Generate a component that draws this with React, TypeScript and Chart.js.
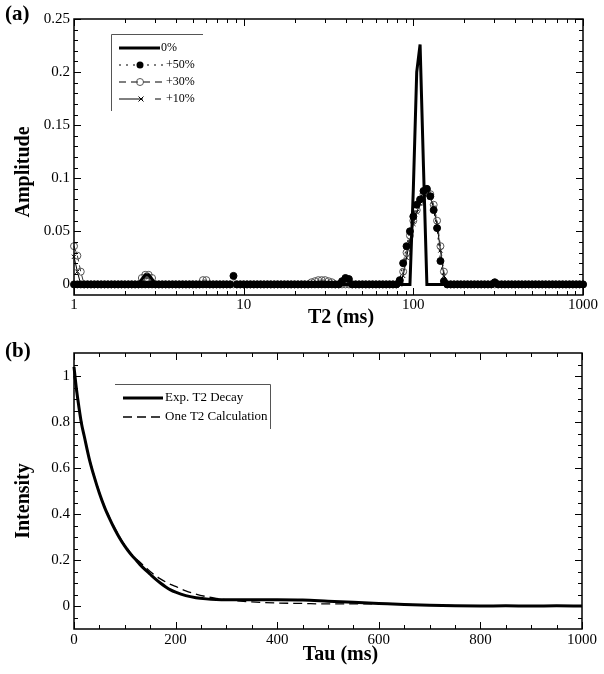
import React, { useEffect, useRef } from 'react';
import { Chart, registerables } from 'chart.js';

Chart.register(...registerables);

const FONT = "'Liberation Serif', 'Times New Roman', serif";
Chart.defaults.font.family = FONT;
Chart.defaults.color = '#000';

// ---------- Panel (a): T2 distribution ----------
const T2_MS = [
  1, 1.047, 1.096, 1.148, 1.202, 1.259, 1.318, 1.38, 1.445, 1.514,
  1.585, 1.66, 1.738, 1.82, 1.905, 1.995, 2.089, 2.188, 2.291, 2.399,
  2.512, 2.63, 2.754, 2.884, 3.02, 3.162, 3.311, 3.467, 3.631, 3.802,
  3.981, 4.169, 4.365, 4.571, 4.786, 5.012, 5.248, 5.495, 5.754, 6.026,
  6.31, 6.607, 6.918, 7.244, 7.586, 7.943, 8.318, 8.71, 9.12, 9.55,
  10, 10.47, 10.96, 11.48, 12.02, 12.59, 13.18, 13.8, 14.45, 15.14,
  15.85, 16.6, 17.38, 18.2, 19.05, 19.95, 20.89, 21.88, 22.91, 23.99,
  25.12, 26.3, 27.54, 28.84, 30.2, 31.62, 33.11, 34.67, 36.31, 38.02,
  39.81, 41.69, 43.65, 45.71, 47.86, 50.12, 52.48, 54.95, 57.54, 60.26,
  63.1, 66.07, 69.18, 72.44, 75.86, 79.43, 83.18, 87.1, 91.2, 95.5,
  100, 104.7, 109.6, 114.8, 120.2, 125.9, 131.8, 138, 144.5, 151.4,
  158.5, 166, 173.8, 182, 190.5, 199.5, 208.9, 218.8, 229.1, 239.9,
  251.2, 263, 275.4, 288.4, 302, 316.2, 331.1, 346.7, 363.1, 380.2,
  398.1, 416.9, 436.5, 457.1, 478.6, 501.2, 524.8, 549.5, 575.4, 602.6,
  631, 660.7, 691.8, 724.4, 758.6, 794.3, 831.8, 871, 912, 955,
  1000,
];

const AMP_0 = [
  0, 0, 0, 0, 0, 0, 0, 0, 0, 0,
  0, 0, 0, 0, 0, 0, 0, 0, 0, 0,
  0.005, 0.009, 0.009, 0.005, 0, 0, 0, 0, 0, 0,
  0, 0, 0, 0, 0, 0, 0, 0, 0, 0,
  0, 0, 0, 0, 0, 0, 0, 0, 0, 0,
  0, 0, 0, 0, 0, 0, 0, 0, 0, 0,
  0, 0, 0, 0, 0, 0, 0, 0, 0, 0,
  0, 0, 0, 0, 0, 0, 0, 0, 0, 0,
  0, 0, 0, 0, 0, 0, 0, 0, 0, 0,
  0, 0, 0, 0, 0, 0, 0, 0, 0, 0,
  0.09, 0.2, 0.226, 0.11, 0, 0, 0, 0, 0, 0,
  0, 0, 0, 0, 0, 0, 0, 0, 0, 0,
  0, 0, 0, 0, 0, 0, 0, 0, 0, 0,
  0, 0, 0, 0, 0, 0, 0, 0, 0, 0,
  0, 0, 0, 0, 0, 0, 0, 0, 0, 0,
  0,
];

const AMP_50 = [
  0, 0, 0, 0, 0, 0, 0, 0, 0, 0,
  0, 0, 0, 0, 0, 0, 0, 0, 0, 0,
  0, 0, 0, 0, 0, 0, 0, 0, 0, 0,
  0, 0, 0, 0, 0, 0, 0, 0, 0, 0,
  0, 0, 0, 0, 0, 0, 0, 0.008, 0, 0,
  0, 0, 0, 0, 0, 0, 0, 0, 0, 0,
  0, 0, 0, 0, 0, 0, 0, 0, 0, 0,
  0, 0, 0, 0, 0, 0, 0, 0, 0, 0.003,
  0.006, 0.005, 0, 0, 0, 0, 0, 0, 0, 0,
  0, 0, 0, 0, 0, 0, 0.004, 0.02, 0.036, 0.05,
  0.064, 0.075, 0.08, 0.088, 0.09, 0.083, 0.07, 0.053, 0.022, 0.003,
  0, 0, 0, 0, 0, 0, 0, 0, 0, 0,
  0, 0, 0, 0, 0.002, 0, 0, 0, 0, 0,
  0, 0, 0, 0, 0, 0, 0, 0, 0, 0,
  0, 0, 0, 0, 0, 0, 0, 0, 0, 0,
  0,
];

const AMP_30 = [
  0.036, 0.027, 0.012, 0, 0, 0, 0, 0, 0, 0,
  0, 0, 0, 0, 0, 0, 0, 0, 0, 0,
  0.006, 0.009, 0.009, 0.006, 0, 0, 0, 0, 0, 0,
  0, 0, 0, 0, 0, 0, 0, 0, 0.004, 0.004,
  0, 0, 0, 0, 0, 0, 0, 0, 0, 0,
  0, 0, 0, 0, 0, 0, 0, 0, 0, 0,
  0, 0, 0, 0, 0, 0, 0, 0, 0, 0,
  0.002, 0.003, 0.004, 0.004, 0.004, 0.003, 0.002, 0, 0, 0,
  0, 0, 0, 0, 0, 0, 0, 0, 0, 0,
  0, 0, 0, 0, 0, 0, 0.002, 0.012, 0.03, 0.046,
  0.06, 0.07, 0.078, 0.085, 0.088, 0.085, 0.075, 0.06, 0.036, 0.012,
  0, 0, 0, 0, 0, 0, 0, 0, 0, 0,
  0, 0, 0, 0, 0, 0, 0, 0, 0, 0,
  0, 0, 0, 0, 0, 0, 0, 0, 0, 0,
  0, 0, 0, 0, 0, 0, 0, 0, 0, 0,
  0,
];

const AMP_10 = [
  0.026, 0.012, 0, 0, 0, 0, 0, 0, 0, 0,
  0, 0, 0, 0, 0, 0, 0, 0, 0, 0,
  0, 0.007, 0.007, 0, 0, 0, 0, 0, 0, 0,
  0, 0, 0, 0, 0, 0, 0, 0, 0, 0,
  0, 0, 0, 0, 0, 0, 0, 0, 0, 0,
  0, 0, 0, 0, 0, 0, 0, 0, 0, 0,
  0, 0, 0, 0, 0, 0, 0, 0, 0, 0,
  0, 0, 0, 0, 0, 0, 0, 0, 0, 0,
  0, 0, 0, 0, 0, 0, 0, 0, 0, 0,
  0, 0, 0, 0, 0, 0, 0, 0.008, 0.025, 0.042,
  0.057, 0.068, 0.076, 0.082, 0.085, 0.082, 0.072, 0.056, 0.032, 0.008,
  0, 0, 0, 0, 0, 0, 0, 0, 0, 0,
  0, 0, 0, 0, 0, 0, 0, 0, 0, 0,
  0, 0, 0, 0, 0, 0, 0, 0, 0, 0,
  0, 0, 0, 0, 0, 0, 0, 0, 0, 0,
  0,
];

const A_X_TICKS = [1, 10, 100, 1000];
const A_Y_TICKS = [0, 0.05, 0.1, 0.15, 0.2, 0.25];

// ---------- Panel (b): decay ----------
const TAU_MS = [
  0, 5, 10, 15, 20, 30, 40, 50, 60, 70, 80, 90, 100, 110, 120, 130, 140, 150, 160, 170,
  180, 190, 200, 220, 240, 260, 280, 300, 350, 400, 450, 500, 550, 600, 650, 700, 750,
  800, 850, 900, 950, 1000,
];
const EXP_DECAY = [
  1.04, 0.94, 0.86, 0.79, 0.74, 0.64, 0.56, 0.49, 0.43, 0.38, 0.335, 0.295, 0.26, 0.23,
  0.205, 0.18, 0.158, 0.138, 0.118, 0.1, 0.084, 0.07, 0.06, 0.045, 0.036, 0.031, 0.028,
  0.027, 0.027, 0.027, 0.026, 0.021, 0.016, 0.011, 0.006, 0.003, 0.001, 0, 0.001, 0,
  0.001, 0,
];
const ONE_T2_CALC = [
  1.0, 0.93, 0.86, 0.8, 0.74, 0.645, 0.565, 0.495, 0.435, 0.385, 0.34, 0.3, 0.265, 0.235,
  0.21, 0.19, 0.17, 0.15, 0.133, 0.118, 0.105, 0.094, 0.085, 0.066, 0.052, 0.041, 0.033,
  0.027, 0.018, 0.013, 0.011, 0.009, 0.009, 0.01, 0.007, 0.004, 0.002, 0.001, 0, 0, 0, 0,
];
const B_X_TICKS = [0, 200, 400, 600, 800, 1000];
const B_Y_TICKS = [0, 0.2, 0.4, 0.6, 0.8, 1];

// minor tick positions (axis decoration only)
const A_X_MINOR: number[] = [];
[1, 10, 100].forEach((d) => { for (let k = 2; k <= 9; k++) A_X_MINOR.push(k * d); });
const A_Y_MINOR: number[] = [];
for (let i = 1; i < 25; i++) if (i % 5 !== 0) A_Y_MINOR.push(i / 100);
const B_X_MINOR: number[] = [];
for (let i = 1; i < 20; i++) if (i % 4 !== 0) B_X_MINOR.push(i * 50);
const B_Y_MINOR: number[] = [];
for (let i = -1; i <= 21; i++) if (i % 4 !== 0) B_Y_MINOR.push(i * 0.05);

function frameTicks(xMajor: number[], xMinor: number[], yMajor: number[], yMinor: number[]) {
  return {
    id: 'frameTicks',
    afterDatasetsDraw(chart: any) {
      const { ctx, chartArea } = chart;
      const { left, right, top, bottom } = chartArea;
      const xs = chart.scales.x;
      const ys = chart.scales.y;
      ctx.save();
      ctx.strokeStyle = '#000';
      ctx.lineWidth = 1;
      const seg = (x1: number, y1: number, x2: number, y2: number) => {
        ctx.beginPath();
        ctx.moveTo(x1, y1);
        ctx.lineTo(x2, y2);
        ctx.stroke();
      };
      const xt = (vals: number[], len: number) =>
        vals.forEach((v) => {
          const p = Math.round(xs.getPixelForValue(v)) + 0.5;
          seg(p, bottom, p, bottom - len);
          seg(p, top, p, top + len);
        });
      const yt = (vals: number[], len: number) =>
        vals.forEach((v) => {
          const p = Math.round(ys.getPixelForValue(v)) + 0.5;
          seg(left, p, left + len, p);
          seg(right, p, right - len, p);
        });
      xt(xMajor, 7);
      xt(xMinor, 4);
      yt(yMajor, 7);
      yt(yMinor, 4);
      ctx.lineWidth = 1.5;
      ctx.strokeRect(left, top, right - left, bottom - top);
      ctx.restore();
    },
  };
}

function decorA() {
  return {
    id: 'decorA',
    afterDraw(chart: any) {
      const ctx = chart.ctx;
      ctx.save();
      ctx.fillStyle = '#000';
      ctx.strokeStyle = '#000';
      ctx.font = `bold 21px ${FONT}`;
      ctx.textBaseline = 'middle';
      ctx.textAlign = 'left';
      ctx.fillText('(a)', 5, 15);
      // legend box (top + left lines)
      ctx.strokeStyle = '#555';
      ctx.lineWidth = 1;
      ctx.beginPath();
      ctx.moveTo(203, 34.5);
      ctx.lineTo(111.5, 34.5);
      ctx.lineTo(111.5, 111);
      ctx.stroke();
      ctx.strokeStyle = '#000';
      ctx.font = `12px ${FONT}`;
      const line = (y: number, x1: number, x2: number, w: number, dash: number[]) => {
        ctx.setLineDash(dash);
        ctx.lineWidth = w;
        ctx.beginPath();
        ctx.moveTo(x1, y);
        ctx.lineTo(x2, y);
        ctx.stroke();
        ctx.setLineDash([]);
      };
      // 0%
      line(48, 119, 160, 3, []);
      ctx.fillText('0%', 161, 48);
      // +50%
      line(65, 119, 163, 1.2, [2, 5]);
      ctx.beginPath();
      ctx.arc(140, 65, 3.5, 0, Math.PI * 2);
      ctx.fill();
      ctx.fillText('+50%', 166, 65);
      // +30%
      line(82, 119, 163, 1.2, [7, 5]);
      ctx.strokeStyle = '#555';
      ctx.lineWidth = 1;
      ctx.beginPath();
      ctx.arc(140, 82, 3.5, 0, Math.PI * 2);
      ctx.stroke();
      ctx.strokeStyle = '#000';
      ctx.fillText('+30%', 166, 82);
      // +10%
      line(99, 119, 143, 1, []);
      line(99, 155, 161, 1, []);
      ctx.lineWidth = 1;
      ctx.beginPath();
      ctx.moveTo(138.5, 96.5);
      ctx.lineTo(143.5, 101.5);
      ctx.moveTo(143.5, 96.5);
      ctx.lineTo(138.5, 101.5);
      ctx.stroke();
      ctx.fillText('+10%', 166, 99);
      ctx.restore();
    },
  };
}

function decorB() {
  return {
    id: 'decorB',
    afterDraw(chart: any) {
      const ctx = chart.ctx;
      ctx.save();
      ctx.fillStyle = '#000';
      ctx.font = `bold 21px ${FONT}`;
      ctx.textBaseline = 'middle';
      ctx.textAlign = 'left';
      ctx.fillText('(b)', 5, 14.5);
      ctx.strokeStyle = '#555';
      ctx.lineWidth = 1;
      ctx.beginPath();
      ctx.moveTo(115, 47.5);
      ctx.lineTo(270.5, 47.5);
      ctx.lineTo(270.5, 92);
      ctx.stroke();
      ctx.strokeStyle = '#000';
      ctx.lineWidth = 3;
      ctx.beginPath();
      ctx.moveTo(123, 61);
      ctx.lineTo(163, 61);
      ctx.stroke();
      ctx.lineWidth = 1.3;
      ctx.setLineDash([9, 5]);
      ctx.beginPath();
      ctx.moveTo(123, 80);
      ctx.lineTo(163, 80);
      ctx.stroke();
      ctx.setLineDash([]);
      ctx.font = `13px ${FONT}`;
      ctx.fillText('Exp. T2 Decay', 165, 61);
      ctx.fillText('One T2 Calculation', 165, 80);
      ctx.restore();
    },
  };
}

const tickFont = { family: FONT, size: 15 };
const titleFont = { family: FONT, size: 20, weight: 'bold' as const };

function configA(): any {
  const pts = (arr: number[]) => T2_MS.map((t, i) => ({ x: t, y: arr[i] }));
  return {
    type: 'line',
    data: {
      datasets: [
        { label: '0%', data: pts(AMP_0), borderColor: '#000', borderWidth: 3, pointRadius: 0, tension: 0, clip: false },
        {
          label: '+50%', data: pts(AMP_50), borderColor: '#000', borderWidth: 1, borderDash: [2, 4],
          pointRadius: 3.5, pointStyle: 'circle', pointBackgroundColor: '#000', pointBorderColor: '#000',
          pointBorderWidth: 1, tension: 0, clip: false,
        },
        {
          label: '+30%', data: pts(AMP_30), borderColor: '#333', borderWidth: 1, borderDash: [6, 4],
          pointRadius: 3.5, pointStyle: 'circle', pointBackgroundColor: 'rgba(0,0,0,0)', pointBorderColor: '#555',
          pointBorderWidth: 1, tension: 0, clip: false,
        },
        {
          label: '+10%', data: pts(AMP_10), borderColor: '#000', borderWidth: 1,
          pointRadius: 3, pointStyle: 'crossRot', pointBorderColor: '#000', pointBorderWidth: 1, tension: 0, clip: false,
        },
      ],
    },
    options: {
      animation: false,
      responsive: false,
      devicePixelRatio: 1,
      events: [],
      layout: { padding: { top: 19, right: 21, left: 0, bottom: 0 } },
      plugins: { legend: { display: false }, tooltip: { enabled: false } },
      scales: {
        x: {
          type: 'logarithmic', min: 1, max: 1000,
          grid: { display: false, drawTicks: false }, border: { display: false },
          afterBuildTicks: (s: any) => { s.ticks = A_X_TICKS.map((v) => ({ value: v })); },
          afterFit: (s: any) => { s.height = 42; },
          ticks: { font: tickFont, padding: 1, autoSkip: false, maxRotation: 0, color: '#000', callback: (v: any) => String(v) },
          title: { display: true, text: '     T2 (ms)', font: titleFont, color: '#000', padding: { top: 0, bottom: 7 } },
        },
        y: {
          type: 'linear', min: -0.01, max: 0.25,
          grid: { display: false, drawTicks: false }, border: { display: false },
          afterBuildTicks: (s: any) => { s.ticks = A_Y_TICKS.map((v) => ({ value: v })); },
          afterFit: (s: any) => { s.width = 74; },
          ticks: { font: tickFont, padding: 4, autoSkip: false, color: '#000', callback: (v: any) => String(v) },
          title: { display: true, text: 'Amplitude      ', font: titleFont, color: '#000', padding: { top: 12, bottom: 0 } },
        },
      },
    },
    plugins: [frameTicks(A_X_TICKS, A_X_MINOR, A_Y_TICKS, A_Y_MINOR), decorA()],
  };
}

function configB(): any {
  const pts = (arr: number[]) => TAU_MS.map((t, i) => ({ x: t, y: arr[i] }));
  return {
    type: 'line',
    data: {
      datasets: [
        { label: 'Exp. T2 Decay', data: pts(EXP_DECAY), borderColor: '#000', borderWidth: 3, pointRadius: 0, cubicInterpolationMode: 'monotone', clip: false },
        { label: 'One T2 Calculation', data: pts(ONE_T2_CALC), borderColor: '#000', borderWidth: 1.3, borderDash: [9, 5], pointRadius: 0, cubicInterpolationMode: 'monotone', clip: false },
      ],
    },
    options: {
      animation: false,
      responsive: false,
      devicePixelRatio: 1,
      events: [],
      layout: { padding: { top: 16, right: 22, left: 0, bottom: 0 } },
      plugins: { legend: { display: false }, tooltip: { enabled: false } },
      scales: {
        x: {
          type: 'linear', min: 0, max: 1000,
          grid: { display: false, drawTicks: false }, border: { display: false },
          afterBuildTicks: (s: any) => { s.ticks = B_X_TICKS.map((v) => ({ value: v })); },
          afterFit: (s: any) => { s.height = 45; },
          ticks: { font: tickFont, padding: 2, autoSkip: false, maxRotation: 0, color: '#000', callback: (v: any) => String(v) },
          title: { display: true, text: '     Tau (ms)', font: titleFont, color: '#000', padding: { top: 0, bottom: 7 } },
        },
        y: {
          type: 'linear', min: -0.1, max: 1.1,
          grid: { display: false, drawTicks: false }, border: { display: false },
          afterBuildTicks: (s: any) => { s.ticks = B_Y_TICKS.map((v) => ({ value: v })); },
          afterFit: (s: any) => { s.width = 74; },
          ticks: { font: tickFont, padding: 4, autoSkip: false, color: '#000', callback: (v: any) => String(v) },
          title: { display: true, text: 'Intensity    ', font: titleFont, color: '#000', padding: { top: 12, bottom: 0 } },
        },
      },
    },
    plugins: [frameTicks(B_X_TICKS, B_X_MINOR, B_Y_TICKS, B_Y_MINOR), decorB()],
  };
}

export default function App() {
  const refA = useRef<HTMLCanvasElement>(null);
  const refB = useRef<HTMLCanvasElement>(null);
  useEffect(() => {
    const a = new Chart(refA.current as HTMLCanvasElement, configA());
    const b = new Chart(refB.current as HTMLCanvasElement, configB());
    return () => {
      a.destroy();
      b.destroy();
    };
  }, []);
  return (
    <div style={{ position: 'absolute', left: 0, top: 0, width: 604, height: 674, background: '#fff' }}>
      <canvas ref={refA} width={604} height={337} style={{ display: 'block', width: 604, height: 337 }} />
      <canvas ref={refB} width={604} height={337} style={{ display: 'block', width: 604, height: 337 }} />
    </div>
  );
}
